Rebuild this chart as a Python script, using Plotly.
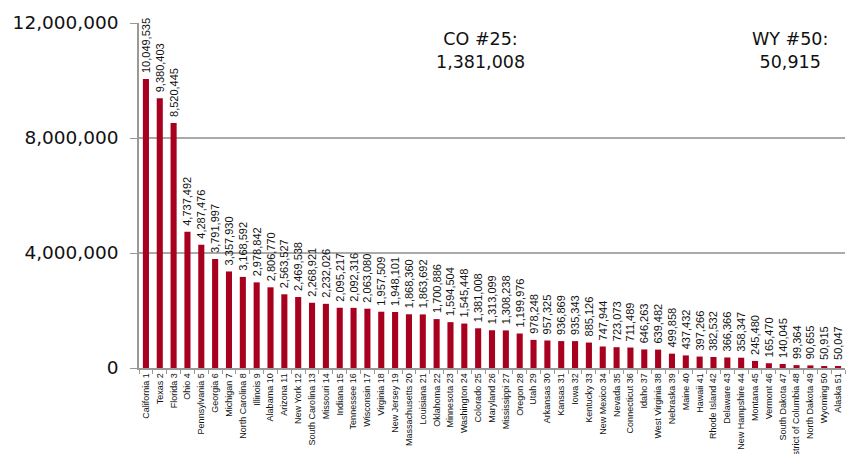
import plotly.graph_objects as go

states = ["California", "Texas", "Florida", "Ohio", "Pennsylvania", "Georgia", "Michigan",
          "North Carolina", "Illinois", "Alabama", "Arizona", "New York", "South Carolina",
          "Missouri", "Indiana", "Tennessee", "Wisconsin", "Virginia", "New Jersey",
          "Massachusetts", "Louisiana", "Oklahoma", "Minnesota", "Washington", "Colorado",
          "Maryland", "Mississippi", "Oregon", "Utah", "Arkansas", "Kansas", "Iowa",
          "Kentucky", "New Mexico", "Nevada", "Connecticut", "Idaho", "West Virginia",
          "Nebraska", "Maine", "Hawaii", "Rhode Island", "Delaware", "New Hampshire",
          "Montana", "Vermont", "South Dakota", "District of Columbia", "North Dakota",
          "Wyoming", "Alaska"]
values = [10049535, 9380403, 8520445, 4737492, 4287476, 3791997, 3357930,
          3168592, 2978842, 2806770, 2563527, 2469538, 2268921,
          2232026, 2095217, 2092316, 2063080, 1957509, 1948101,
          1868360, 1863692, 1700886, 1594504, 1545448, 1381008,
          1313099, 1308238, 1199976, 978248, 957325, 936869, 935343,
          885126, 747944, 723073, 711489, 646263, 639482,
          499858, 437432, 397266, 382532, 366366, 358347,
          245480, 165470, 140045, 99364, 90655,
          50915, 50047]
ranks = list(range(1, len(states) + 1))
ytick_vals = [0, 4000000, 8000000, 12000000]
ytick_text = ["0", "4,000,000", "8,000,000", "12,000,000"]
highlights = [("CO", 25), ("WY", 50)]

labels = [f"{s} {r}" for s, r in zip(states, ranks)]

fig = go.Figure()
fig.add_trace(go.Bar(
    x=labels, y=values,
    marker=dict(color="#a8001f", line=dict(width=0)),
    text=["\u00a0" + f"{v:,}" for v in values],
    textposition="outside",
    textangle=-90,
    constraintext="none",
    cliponaxis=False,
    textfont=dict(family="Liberation Sans, Arial, sans-serif", size=11, color="#111"),
))

ann_x = [0.484, 0.922]
for (abbr, rank), ax in zip(highlights, ann_x):
    fig.add_annotation(
        xref="paper", yref="paper", x=ax, y=0.919,
        xanchor="center", yanchor="middle",
        text=f"{abbr} #{rank}:<br>{values[rank-1]:,}",
        showarrow=False, align="center",
        font=dict(family="DejaVu Sans", size=17.5, color="#111"),
    )

# page body has an 8px margin, so shrink the figure by 8px and shift margins
fig.update_layout(
    width=857, height=446,
    margin=dict(l=131, r=20, t=15, b=86),
    plot_bgcolor="white", paper_bgcolor="white",
    showlegend=False,
    bargap=0.56,
)
fig.update_xaxes(
    type="category", tickangle=-90, automargin=False,
    tickfont=dict(family="Liberation Sans, Arial, sans-serif", size=9, color="#111"),
    showline=True, linecolor="#999", linewidth=1.5,
    ticks="outside", tickson="boundaries", ticklen=4, tickcolor="#999",
    showgrid=False,
)
fig.update_yaxes(
    range=[0, 12000000], tickvals=ytick_vals, ticktext=ytick_text, automargin=False,
    tickfont=dict(family="DejaVu Sans", size=18.5, color="#111"),
    showline=True, linecolor="#999", linewidth=1.5,
    ticks="outside", ticklen=7, tickcolor="#999", ticklabelstandoff=8,
    showgrid=True, gridcolor="#aaa", gridwidth=1.5,
    zeroline=False,
)
fig.write_html("out.html")
